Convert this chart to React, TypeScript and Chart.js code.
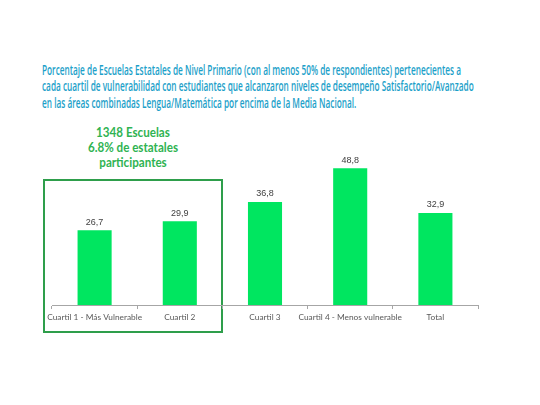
import React, { useEffect, useLayoutEffect, useRef } from "react";
import { Chart, registerables } from "chart.js";

Chart.register(...registerables);

const categories = [
  "Cuartil 1 - Más Vulnerable",
  "Cuartil 2",
  "Cuartil 3",
  "Cuartil 4 - Menos vulnerable",
  "Total",
];
const percentages = [26.7, 29.9, 36.8, 48.8, 32.9];
const titleLines = [
  "Porcentaje de Escuelas Estatales de Nivel Primario (con al menos 50% de respondientes) pertenecientes a",
  "cada cuartil de vulnerabilidad con estudiantes que alcanzaron niveles de desempeño Satisfactorio/Avanzado",
  "en las áreas combinadas Lengua/Matemática por encima de la Media Nacional.",
];
const noteLines = ["1348 Escuelas", "6.8% de estatales", "participantes"];

const BAR_GREEN = "#00e660";
const NOTE_GREEN = "#2fb352";
const TITLE_BLUE = "#1c9fc9";
const TITLE_FIRST_LINE_WIDTH = 419;

// Writes each bar's value (with a decimal comma) just above it
const valueLabels = {
  id: "valueLabels",
  afterDatasetsDraw(chart: any) {
    const ctx = chart.ctx;
    const meta = chart.getDatasetMeta(0);
    ctx.save();
    ctx.font = "9px 'Liberation Sans', Arial, sans-serif";
    ctx.fillStyle = "#404040";
    ctx.textAlign = "center";
    ctx.textBaseline = "middle";
    meta.data.forEach((bar: any, i: number) => {
      const v = chart.data.datasets[0].data[i] as number;
      ctx.fillText(v.toFixed(1).replace(".", ","), bar.x, bar.y - 8);
    });
    ctx.restore();
  },
};

export default function App() {
  const canvasRef = useRef<HTMLCanvasElement | null>(null);
  const titleRef = useRef<HTMLDivElement | null>(null);
  const firstLineRef = useRef<HTMLSpanElement | null>(null);

  // Condense the heading horizontally so its first line fits the set width
  useLayoutEffect(() => {
    if (!titleRef.current || !firstLineRef.current) return;
    const natural = firstLineRef.current.getBoundingClientRect().width;
    if (natural > 0) {
      titleRef.current.style.transform = `scaleX(${TITLE_FIRST_LINE_WIDTH / natural})`;
    }
  }, []);

  useEffect(() => {
    if (!canvasRef.current) return;
    const chart = new Chart(canvasRef.current, {
      type: "bar",
      data: {
        labels: categories,
        datasets: [
          {
            data: percentages,
            backgroundColor: BAR_GREEN,
            borderWidth: 0,
            categoryPercentage: 1,
            barPercentage: 0.4,
          },
        ],
      },
      options: {
        animation: false,
        responsive: false,
        maintainAspectRatio: false,
        layout: { padding: { left: 52, right: 62, top: 137, bottom: 80 } },
        plugins: {
          legend: { display: false },
          tooltip: { enabled: false },
          title: { display: false },
        },
        scales: {
          y: { display: false, min: 0, max: 60 },
          x: {
            offset: true,
            grid: {
              offset: true,
              drawOnChartArea: false,
              drawTicks: true,
              tickLength: 4,
              color: "#a6a6a6",
            },
            border: { display: true, color: "#a6a6a6", width: 1 },
            ticks: {
              color: "#595959",
              padding: 3,
              maxRotation: 0,
              autoSkip: false,
              font: { family: "Lato, 'Open Sans', sans-serif", size: 8.3 },
            },
          },
        },
      },
      plugins: [valueLabels],
    });
    return () => chart.destroy();
  }, []);

  return (
    <div
      style={{
        position: "fixed",
        left: 0,
        top: 0,
        width: 540,
        height: 405,
        background: "#ffffff",
        overflow: "hidden",
      }}
    >
      <div
        ref={titleRef}
        style={{
          position: "absolute",
          left: 42,
          top: 62,
          transformOrigin: "0 0",
          fontFamily: "'Open Sans', sans-serif",
          fontWeight: 600,
          fontSize: 13.5,
          lineHeight: "16.3px",
          color: TITLE_BLUE,
          whiteSpace: "nowrap",
        }}
      >
        {titleLines.map((l, i) => (
          <div key={i}>
            <span ref={i === 0 ? firstLineRef : undefined}>{l}</span>
          </div>
        ))}
      </div>
      <div
        style={{
          position: "absolute",
          left: 63,
          top: 125,
          width: 140,
          textAlign: "center",
          transform: "scaleX(0.93)",
          transformOrigin: "50% 0",
          fontFamily: "Lato, 'Open Sans', sans-serif",
          fontWeight: 700,
          fontSize: 12.5,
          lineHeight: "15px",
          color: NOTE_GREEN,
        }}
      >
        {noteLines.map((l, i) => (
          <div key={i}>{l}</div>
        ))}
      </div>
      <div
        style={{
          position: "absolute",
          left: 43,
          top: 179,
          width: 176,
          height: 150,
          border: "2px solid #2e9e4b",
        }}
      />
      <canvas
        ref={canvasRef}
        width={540}
        height={405}
        style={{ position: "absolute", left: 0, top: 0 }}
      />
    </div>
  );
}
